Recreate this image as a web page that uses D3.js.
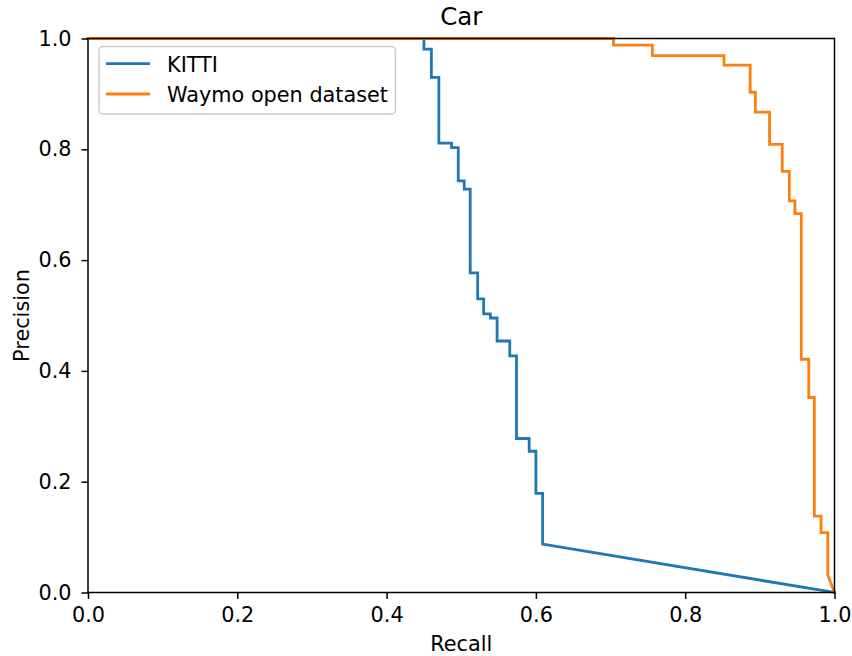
<!DOCTYPE html>
<html>
<head>
<meta charset="utf-8">
<script src="https://cdn.jsdelivr.net/npm/d3@7"></script>
<style>
  body { margin: 0; background: #fff; }
  text { font-family: "DejaVu Sans", sans-serif; fill: #000; }
</style>
</head>
<body>
<script>
// PR curve vertices
const kittiRecall = [0, 0.450, 0.450, 0.460, 0.460, 0.470, 0.470, 0.487, 0.487, 0.496, 0.496, 0.504, 0.504, 0.512, 0.512,
  0.522, 0.522, 0.530, 0.530, 0.539, 0.539, 0.548, 0.548, 0.565, 0.565, 0.574, 0.574, 0.591, 0.591, 0.600, 0.600, 0.609, 0.609, 1];
const kittiPrecision = [1, 1, 0.981, 0.981, 0.930, 0.930, 0.811, 0.811, 0.803, 0.803, 0.743, 0.743, 0.728, 0.728, 0.577,
  0.577, 0.530, 0.530, 0.503, 0.503, 0.4955, 0.4955, 0.454, 0.454, 0.427, 0.427, 0.278, 0.278, 0.255, 0.255, 0.179, 0.179, 0.0875, 0];

const waymoRecall = [0, 0.704, 0.704, 0.756, 0.756, 0.852, 0.852, 0.887, 0.887, 0.894, 0.894, 0.913, 0.913, 0.930, 0.930,
  0.9395, 0.9395, 0.947, 0.947, 0.9555, 0.9555, 0.9655, 0.9655, 0.973, 0.973, 0.982, 0.982, 0.991, 0.991, 1];
const waymoPrecision = [1, 1, 0.988, 0.988, 0.969, 0.969, 0.952, 0.952, 0.903, 0.903, 0.867, 0.867, 0.809, 0.809, 0.760,
  0.760, 0.707, 0.707, 0.684, 0.684, 0.421, 0.421, 0.352, 0.352, 0.138, 0.138, 0.108, 0.108, 0.0316, 0];

const seriesNames = ["KITTI", "Waymo open dataset"];
const seriesColors = ["#1f77b4", "#ff7f0e"];
const tickValues = [0, 0.2, 0.4, 0.6, 0.8, 1.0];

const width = 852, height = 656;
const margin = { left: 88, right: 852 - 834.5, top: 38.5, bottom: 656 - 592.5 };
const fontSize = "20.8px";

const svg = d3.select("body").append("svg")
  .attr("width", width)
  .attr("height", height);

const x = d3.scaleLinear().domain([0, 1]).range([margin.left, width - margin.right]);
const y = d3.scaleLinear().domain([0, 1]).range([height - margin.bottom, margin.top]);

//curves
const series = [
  kittiRecall.map((r, i) => [r, kittiPrecision[i]]),
  waymoRecall.map((r, i) => [r, waymoPrecision[i]])
];
const line = d3.line().x(d => x(d[0])).y(d => y(d[1]));

const plot = svg.append("g");
series.forEach((pts, i) => {
  plot.append("path")
    .datum(pts)
    .attr("d", line)
    .attr("fill", "none")
    .attr("stroke", seriesColors[i])
    .attr("stroke-width", 2.8)
    .attr("stroke-linejoin", "miter")
    .attr("stroke-linecap", "square");
});

//axes
const xAxis = svg.append("g")
  .attr("transform", `translate(0,${y(0)})`)
  .call(d3.axisBottom(x).tickValues(tickValues).tickFormat(d3.format(".1f")).tickSize(6.5).tickPadding(8.5));
const yAxis = svg.append("g")
  .attr("transform", `translate(${x(0)},0)`)
  .call(d3.axisLeft(y).tickValues(tickValues).tickFormat(d3.format(".1f")).tickSize(6.5).tickPadding(10));

[xAxis, yAxis].forEach(a => {
  a.select(".domain").remove();
  a.selectAll(".tick line").attr("stroke", "#000").attr("stroke-width", 1.5);
  a.selectAll(".tick text").style("font-size", fontSize).attr("fill", "#000");
});

//frame
svg.append("rect")
  .attr("x", x(0)).attr("y", y(1))
  .attr("width", x(1) - x(0)).attr("height", y(0) - y(1))
  .attr("fill", "none")
  .attr("stroke", "#000")
  .attr("stroke-width", 1.5);

//labels
svg.append("text")
  .text("Car")
  .attr("x", (x(0) + x(1)) / 2)
  .attr("y", 25)
  .attr("text-anchor", "middle")
  .style("font-size", "24.5px");

svg.append("text")
  .text("Recall")
  .attr("x", (x(0) + x(1)) / 2)
  .attr("y", 651)
  .attr("text-anchor", "middle")
  .style("font-size", fontSize);

svg.append("text")
  .text("Precision")
  .attr("transform", `translate(28.5,${(y(0) + y(1)) / 2}) rotate(-90)`)
  .attr("text-anchor", "middle")
  .style("font-size", fontSize);

//legend
const legend = svg.append("g");
legend.append("rect")
  .attr("x", 99).attr("y", 46.5)
  .attr("width", 296.5).attr("height", 67.5)
  .attr("rx", 4)
  .attr("fill", "#fff")
  .attr("fill-opacity", 0.8)
  .attr("stroke", "#ccc")
  .attr("stroke-width", 1.5);

seriesNames.forEach((name, i) => {
  const ly = 63.7 + i * 30.3;
  legend.append("line")
    .attr("x1", 106).attr("x2", 150)
    .attr("y1", ly).attr("y2", ly)
    .attr("stroke", seriesColors[i])
    .attr("stroke-width", 2.8);
  legend.append("text")
    .text(name)
    .attr("x", 167)
    .attr("y", ly + 8)
    .style("font-size", fontSize);
});
</script>
</body>
</html>
